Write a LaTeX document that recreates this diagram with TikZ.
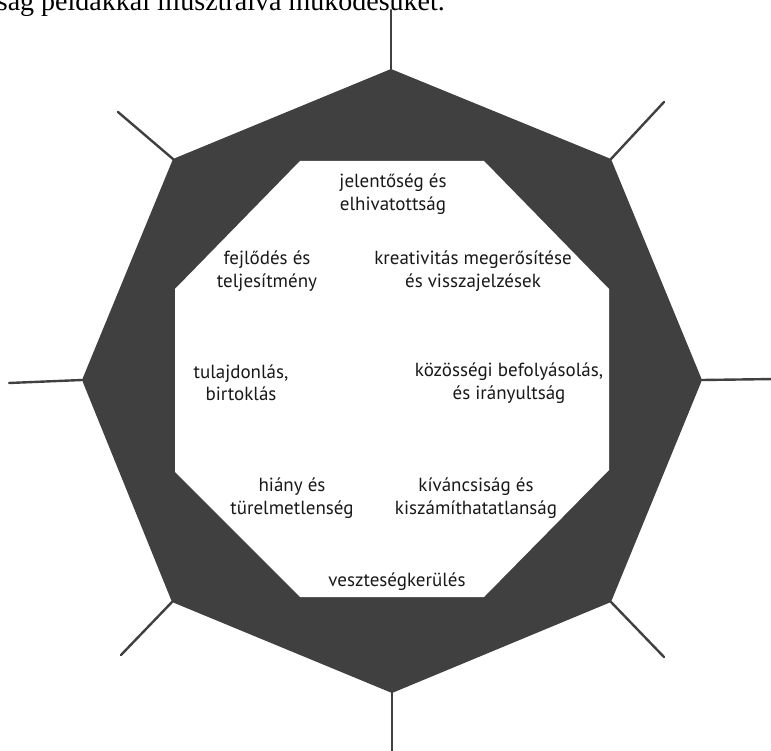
\documentclass[tikz,border=0pt]{standalone}
\usepackage{fontspec}
\setmainfont{Liberation Serif}
\newfontfamily\labelfont{PT Sans}
\usetikzlibrary{positioning}
\definecolor{ringgray}{HTML}{404040}
\tikzset{
  spoke/.style={draw=ringgray, line width=2.4, line cap=round},
  lbl/.style={font=\labelfont\fontsize{19}{22.5}\selectfont, align=center, text=black!90, inner sep=0pt},
}

\begin{document}
\begin{tikzpicture}[x=1pt, y=-1pt]
  \useasboundingbox (0,0) rectangle (771,751);
  \clip (0,0) rectangle (771,751);
  % caption line, cut by the page top
  \node[anchor=base east, inner sep=0pt, font=\fontsize{28}{28}\selectfont] (caption) at (445,11) {ság példákkal illusztrálva működésüket.};
  % outer corners
  \coordinate (vt) at (391,69);
  \coordinate (vur) at (611,159);
  \coordinate (vr) at (702,380);
  \coordinate (vlr) at (611,602);
  \coordinate (vb) at (392,693);
  \coordinate (vll) at (172,602);
  \coordinate (vl) at (82,380);
  \coordinate (vul) at (173,159);
  % spoke ends
  \coordinate (et) at (391,10);
  \coordinate (eur) at (664,102);
  \coordinate (er) at (776,379);
  \coordinate (elr) at (664,657);
  \coordinate (eb) at (392,756);
  \coordinate (ell) at (121,655);
  \coordinate (el) at (9,383);
  \coordinate (eul) at (118,112);
  % ring
  \fill[ringgray] (vt) -- (vur) -- (vr) -- (vlr) -- (vb) -- (vll) -- (vl) -- (vul) -- cycle;
  \fill[white] (300,161) -- (484,161) -- (609,289) -- (609,470) -- (484,597) -- (300,597) -- (175,472) -- (175,289) -- cycle;
  % spokes
  \draw[spoke] (vt) -- (et);
  \draw[spoke] (vur) -- (eur);
  \draw[spoke] (vr) -- (er);
  \draw[spoke] (vlr) -- (elr);
  \draw[spoke] (vb) -- (eb);
  \draw[spoke] (vll) -- (ell);
  \draw[spoke] (vl) -- (el);
  \draw[spoke] (vul) -- (eul);
  % labels
  \node[lbl] (meaning) at (393,194) {jelentőség és\\elhivatottság};
  \node[lbl] (growth) at (267,271) {fejlődés és\\teljesítmény};
  \node[lbl] (creativity) at (473,271) {kreativitás megerősítése\\és visszajelzések};
  \node[lbl] (ownership) at (241,383) {tulajdonlás,\\birtoklás};
  \node[lbl] (social) at (509,383) {közösségi befolyásolás,\\és irányultság};
  \node[lbl] (scarcity) at (292,498) {hiány és\\türelmetlenség};
  \node[lbl] (curiosity) at (476,498) {kíváncsiság és\\kiszámíthatatlanság};
  \node[lbl] (loss) at (397,582) {veszteségkerülés};
\end{tikzpicture}
\end{document}
